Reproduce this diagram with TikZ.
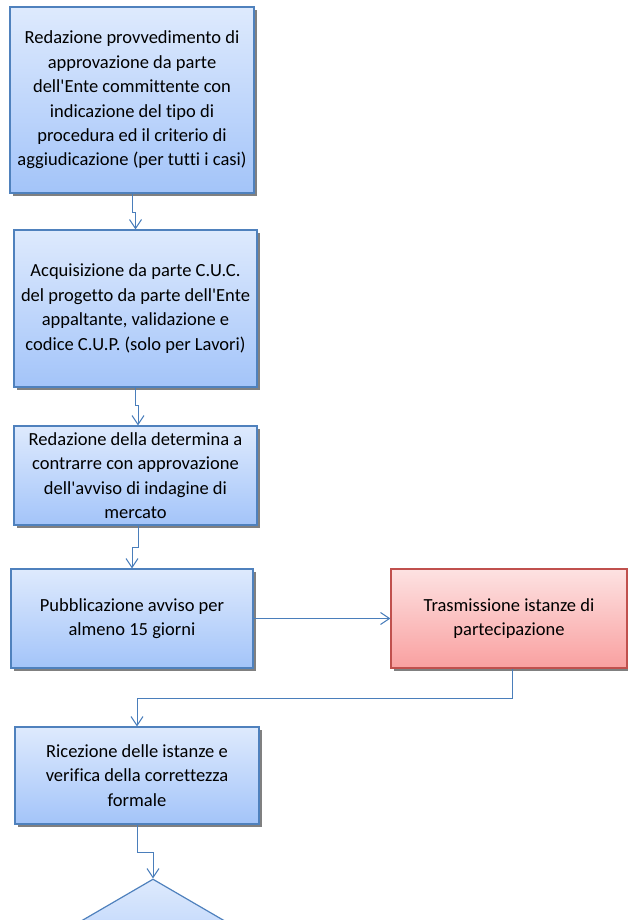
\documentclass[tikz,border=0pt]{standalone}
\usepackage{fontspec}
\setmainfont{Carlito}[RawFeature={-liga}]
\usetikzlibrary{shapes.geometric,shadows,arrows.meta}
\definecolor{topb}{RGB}{222,234,253}
\definecolor{botb}{RGB}{163,196,249}
\definecolor{edgeb}{RGB}{79,129,189}
\definecolor{topr}{RGB}{253,226,226}
\definecolor{botr}{RGB}{249,160,160}
\definecolor{edger}{RGB}{192,80,77}
\definecolor{shadowg}{RGB}{128,128,128}
\definecolor{lineb}{RGB}{74,126,187}

\begin{document}
\begin{tikzpicture}[x=1pt,y=-1pt]%
  \tikzstyle{boxb}=[rectangle,draw=edgeb,line width=1.2pt,top color=topb,bottom color=botb,inner sep=0,align=center,font=\fontsize{18.5}{24.4}\selectfont,drop shadow={shadow xshift=3pt,shadow yshift=-3pt,fill=shadowg,opacity=1}]
  \tikzstyle{boxr}=[boxb,draw=edger,top color=topr,bottom color=botr]
  \tikzstyle{diam}=[diamond,draw=edgeb,line width=1.2pt,top color=topb,bottom color=botb,inner sep=0]
  \tikzstyle{conn}=[draw=lineb,line width=1pt,-{Straight Barb[length=9pt,width=12pt]}]
  \useasboundingbox (0,0) rectangle (628,920);
  \clip (0,0) rectangle (628,920);
  \node(1)[boxb,minimum width=244,minimum height=186] at (132,100)
    {Redazione provvedimento di\\approvazione da parte\\dell\textquotesingle Ente committente con\\indicazione del tipo di\\procedura ed il criterio di\\aggiudicazione (per tutti i casi)};
  \node(2)[boxb,minimum width=243,minimum height=157] at (135.5,308.5)
    {Acquisizione da parte C.U.C.\\del progetto da parte dell\textquotesingle Ente\\appaltante, validazione e\\codice C.U.P. (solo per Lavori)};
  \node(3)[boxb,minimum width=243,minimum height=99] at (135.5,475.5)
    {Redazione della determina a\\contrarre con approvazione\\dell\textquotesingle avviso di indagine di\\mercato};
  \node(4)[boxb,minimum width=242,minimum height=99] at (132,618.5)
    {Pubblicazione avviso per\\almeno 15 giorni};
  \node(5)[boxr,minimum width=236,minimum height=99] at (509,618.5)
    {Trasmissione istanze di\\partecipazione};
  \node(6)[boxb,minimum width=244,minimum height=97] at (137,775.5)
    {Ricezione delle istanze e\\verifica della correttezza\\formale};
  \node(7)[diam,minimum width=206,minimum height=120] at (153,939) {};
  \draw[conn] (1.south) -- ++(0,19) -| (2.north);
  \draw[conn] (2.south) -- ++(0,18) -| ([xshift=2.5pt]3.north);
  \draw[conn] ([xshift=2.5pt]3.south) -- ++(0,22) -| (4.north);
  \draw[conn] (4.east) -- (5.west);
  \draw[conn] ([xshift=3pt]5.south) -- ++(0,30) -| (6.north);
  \draw[conn] (6.south) -- ++(0,28) -| (7.north);
\end{tikzpicture}
\end{document}
